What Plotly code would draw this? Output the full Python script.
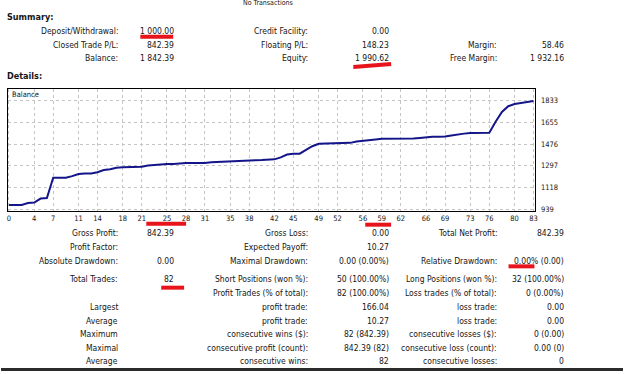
import plotly.graph_objects as go

W, H = 625, 374

# ---------------- data ----------------
trade_idx = list(range(84))
balance = [974, 974, 974, 990, 994, 1027, 1031, 1198, 1198, 1198,
           1212, 1230, 1233, 1233, 1244, 1262, 1268, 1280, 1285, 1287,
           1288, 1289, 1299, 1304, 1307, 1311, 1312, 1317, 1320, 1320,
           1320, 1321, 1327, 1330, 1334, 1335, 1336, 1341, 1342, 1343,
           1344, 1344, 1350, 1366, 1390, 1396, 1397, 1428, 1458, 1479,
           1481, 1481, 1481, 1482, 1486, 1497, 1501, 1504, 1514, 1519,
           1519, 1519, 1519, 1520, 1521, 1526, 1534, 1536, 1537, 1538,
           1546, 1556, 1562, 1567, 1570, 1570, 1570, 1660, 1740, 1788,
           1806, 1815, 1822, 1831]
x_ticks = [0, 4, 7, 11, 14, 18, 21, 25, 28, 31, 35, 38, 42, 45, 49, 52,
           56, 59, 62, 66, 69, 73, 76, 80, 83]
y_ticks = [939, 1118, 1297, 1476, 1655, 1833]

summary_rows = [
    ["Deposit/Withdrawal:", "1 000.00", "Credit Facility:", "0.00", "", ""],
    ["Closed Trade P/L:", "842.39", "Floating P/L:", "148.23", "Margin:", "58.46"],
    ["Balance:", "1 842.39", "Equity:", "1 990.62", "Free Margin:", "1 932.16"],
]
details_rows = [
    ["Gross Profit:", "842.39", "Gross Loss:", "0.00", "Total Net Profit:", "842.39"],
    ["Profit Factor:", "", "Expected Payoff:", "10.27", "", ""],
    ["Absolute Drawdown:", "0.00", "Maximal Drawdown:", "0.00 (0.00%)", "Relative Drawdown:", "0.00% (0.00)"],
    ["Total Trades:", "82", "Short Positions (won %):", "50 (100.00%)", "Long Positions (won %):", "32 (100.00%)"],
    ["", "", "Profit Trades (% of total):", "82 (100.00%)", "Loss trades (% of total):", "0 (0.00%)"],
    ["Largest", "", "profit trade:", "166.04", "loss trade:", "0.00"],
    ["Average", "", "profit trade:", "10.27", "loss trade:", "0.00"],
    ["Maximum", "", "consecutive wins ($):", "82 (842.39)", "consecutive losses ($):", "0 (0.00)"],
    ["Maximal", "", "consecutive profit (count):", "842.39 (82)", "consecutive loss (count):", "0.00 (0)"],
    ["Average", "", "consecutive wins:", "82", "consecutive losses:", "0"],
]

# ---------------- layout helpers ----------------
FONT = "DejaVu Sans Condensed, Tahoma, Liberation Sans, sans-serif"
TXT = "#151515"

def px(x):
    return x / W

def py(y):
    return 1 - y / H

annotations = []

def text(x, y, s, anchor="right", size=8.5, bold=False):
    if not s:
        return
    annotations.append(dict(
        x=px(x), y=py(y), xref="paper", yref="paper", text=s,
        showarrow=False, xanchor=anchor, yanchor="middle",
        font=dict(family=FONT, size=size, color=TXT,
                  weight="bold" if bold else "normal")))

col_x = [120, 176, 310, 392, 500, 568]

text(268, 3.5, "No Transactions", anchor="center", size=7)
text(4, 17, "Summary:", anchor="left", size=9, bold=True)
for row, y in zip(summary_rows, [31, 45, 58.5]):
    for s, x in zip(row, col_x):
        text(x, y, s)
text(4, 77, "Details:", anchor="left", size=9, bold=True)
for row, y in zip(details_rows, [235, 249.3, 262.7, 281.7, 295.7, 309.3, 323.3, 336.7, 350.7, 364.3]):
    for s, x in zip(row, col_x):
        text(x, y, s)

text(9, 95.7, "Balance", anchor="left", size=7.5)

shapes = []
def red(x0, y0, x1, y1):
    shapes.append(dict(type="line", xref="paper", yref="paper",
                       x0=px(x0), y0=py(y0), x1=px(x1), y1=py(y1),
                       line=dict(color="#e8141c", width=4)))

red(140, 37, 173, 37)
red(354, 67.5, 392, 64.5)
red(146, 225.5, 186, 225.5)
red(366, 226.5, 392, 226.5)
red(510, 268.5, 536, 268.5)
red(161, 290, 184, 290)

# bottom dark band
shapes.append(dict(type="rect", xref="paper", yref="paper",
                   x0=0, x1=1, y0=py(374), y1=py(371),
                   line=dict(width=0), fillcolor="#2b2b2b"))

fig = go.Figure()
fig.add_trace(go.Scatter(x=trade_idx, y=balance, mode="lines",
                         line=dict(color="#15158a", width=2),
                         hoverinfo="skip"))

fig.update_layout(
    width=W, height=H,
    margin=dict(l=0, r=0, t=0, b=0),
    paper_bgcolor="white", plot_bgcolor="white",
    showlegend=False,
    annotations=annotations, shapes=shapes,
    xaxis=dict(domain=[px(7), px(537)], range=[-0.16, 83.3],
               tickmode="array", tickvals=x_ticks,
               ticktext=[str(v) for v in x_ticks],
               showgrid=True, gridcolor="#c4c4c4", griddash="dot", gridwidth=1,
               showline=True, linecolor="black", linewidth=1, mirror=True,
               zeroline=False, ticks="", ticklabelstandoff=0,
               tickfont=dict(family=FONT, size=7.5, color=TXT)),
    yaxis=dict(domain=[py(212.3), py(89.3)], range=[928, 1933],
               side="right", tickmode="array", tickvals=y_ticks,
               ticktext=[str(v) for v in y_ticks],
               showgrid=True, gridcolor="#c4c4c4", griddash="dot", gridwidth=1,
               showline=True, linecolor="black", linewidth=1, mirror=True,
               zeroline=False, ticks="", ticklabelstandoff=3,
               tickfont=dict(family=FONT, size=7.5, color=TXT)),
)

fig.write_html("out.html")
